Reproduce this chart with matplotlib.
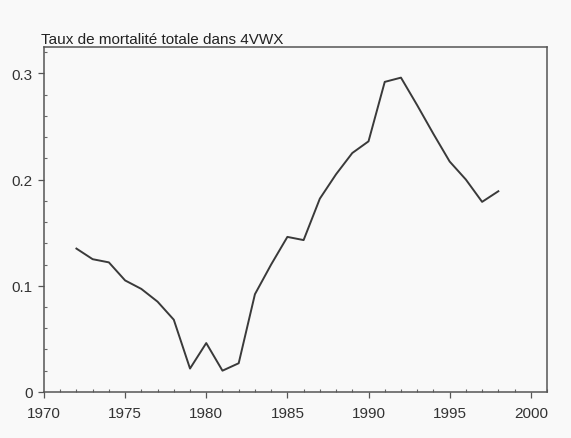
import matplotlib
matplotlib.use("Agg")
import matplotlib.pyplot as plt
from matplotlib.ticker import MultipleLocator

plt.rcParams['font.family'] = ['Liberation Sans', 'DejaVu Sans']

# data
years = list(range(1972, 1999))
mortality = [0.135, 0.125, 0.122, 0.105, 0.097, 0.085, 0.068, 0.022, 0.046,
             0.020, 0.027, 0.092, 0.120, 0.146, 0.143, 0.182, 0.205, 0.225,
             0.236, 0.292, 0.296, 0.270, 0.243, 0.217, 0.200, 0.179, 0.189]

fig = plt.figure(figsize=(5.71, 4.39), dpi=100, facecolor="#f9f9f9")
ax = fig.add_axes([0.077, 0.105, 0.881, 0.786])
ax.set_facecolor("#f9f9f9")

ax.plot(years, mortality, color="#3a3a3a", lw=1.4)

ax.set_xlim(1970, 2001)
ax.set_ylim(0, 0.325)
ax.xaxis.set_major_locator(MultipleLocator(5))
ax.xaxis.set_minor_locator(MultipleLocator(1))
ax.yaxis.set_major_locator(MultipleLocator(0.1))
ax.yaxis.set_minor_locator(MultipleLocator(0.02))
ax.set_yticks([0, 0.1, 0.2, 0.3])
ax.set_yticklabels(["0", "0.1", "0.2", "0.3"])

ax.tick_params(which="major", direction="out", length=4, width=0.9,
               colors="#555555", labelsize=11, labelcolor="#333333", pad=4)
ax.tick_params(axis="x", which="major", pad=6)
ax.tick_params(which="minor", direction="in", length=2.5, width=0.8,
               colors="#666666")
for s in ax.spines.values():
    s.set_color("#555555")
    s.set_linewidth(1.1)

ax.set_title("Taux de mortalité totale dans 4VWX", loc="left", fontsize=11,
             color="#222222", pad=3, x=-0.005)

fig.savefig("out.png", dpi=100, facecolor=fig.get_facecolor())
